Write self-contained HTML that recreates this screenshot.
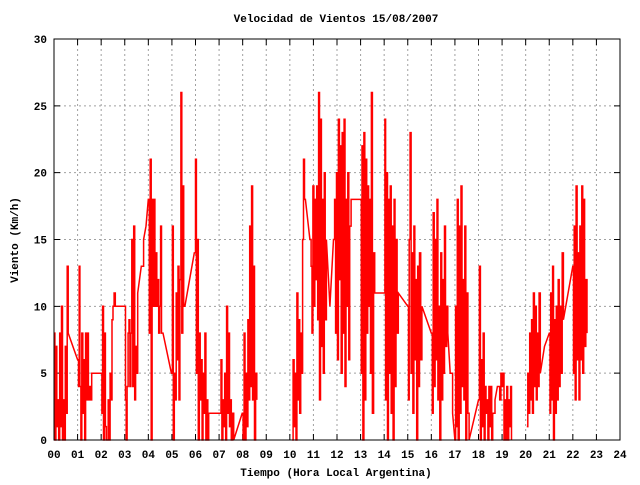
<!DOCTYPE html>
<html><head><meta charset="utf-8"><style>
body{margin:0;background:#fff}
svg text{font-family:"Liberation Mono",monospace;font-size:11px;font-weight:bold;fill:#000}
</style></head><body>
<svg id="chart" width="640" height="480" xmlns="http://www.w3.org/2000/svg">
<rect width="640" height="480" fill="#fff"/>
<text x="336" y="22" text-anchor="middle">Velocidad de Vientos 15/08/2007</text>
<text transform="translate(18,240) rotate(-90)" text-anchor="middle">Viento (Km/h)</text>
<text x="336" y="476" text-anchor="middle">Tiempo (Hora Local Argentina)</text>
<g id="grid"></g>
<g id="ticks"></g>
<path id="series" fill="none" stroke="#ff0000" stroke-width="1.5"/>
<rect x="54" y="39" width="566" height="401" fill="none" stroke="#000" stroke-width="1"/>
</svg>
<script>
const xTicks=["00","01","02","03","04","05","06","07","08","09","10","11","12","13","14","15","16","17","18","19","20","21","22","23","24"];
const yTicks=[0,5,10,15,20,25,30];
const times=[0,0.04,0.08,0.12,0.16,0.2,0.24,0.28,0.32,0.36,0.4,0.44,0.48,0.52,0.56,0.6,1.0,1.04,1.07,1.1,1.14,1.18,1.22,1.26,1.3,1.34,1.38,1.42,1.46,1.5,1.55,1.6,2.0,2.03,2.06,2.1,2.14,2.18,2.22,2.3,2.34,2.38,2.42,2.46,2.5,2.55,2.6,3.0,3.03,3.06,3.1,3.14,3.18,3.22,3.26,3.3,3.34,3.38,3.42,3.46,3.5,3.55,3.7,3.8,3.9,4.0,4.04,4.08,4.12,4.16,4.2,4.24,4.28,4.32,4.36,4.4,4.44,4.48,4.52,4.56,4.62,4.98,5.02,5.06,5.1,5.14,5.18,5.22,5.26,5.3,5.34,5.38,5.42,5.46,5.5,5.55,5.95,6.0,6.04,6.08,6.12,6.16,6.2,6.24,6.28,6.32,6.36,6.4,6.44,6.48,6.52,6.56,7.05,7.08,7.12,7.16,7.2,7.24,7.28,7.32,7.36,7.4,7.44,7.48,7.52,7.58,7.62,7.98,8.02,8.06,8.1,8.14,8.18,8.22,8.26,8.3,8.34,8.38,8.42,8.46,8.5,8.55,8.6,9.0,
10.1,10.14,10.18,10.22,10.26,10.3,10.34,10.38,10.42,10.46,10.5,10.54,10.58,10.62,10.66,10.85,10.9,10.94,10.98,11.02,11.06,11.1,11.14,11.18,11.22,11.26,11.3,11.34,11.38,11.42,11.46,11.5,11.55,11.7,11.85,11.9,11.94,11.98,12.02,12.06,12.1,12.14,12.18,12.22,12.26,12.3,12.34,12.38,12.42,12.46,12.5,12.54,12.6,13.0,13.03,13.06,13.1,13.14,13.18,13.22,13.26,13.3,13.34,13.38,13.42,13.46,13.5,13.55,13.6,14.0,14.03,14.06,14.1,14.14,14.18,14.22,14.26,14.3,14.34,14.38,14.42,14.46,14.5,14.55,14.6,15.0,15.03,15.06,15.1,15.14,15.18,15.22,15.26,15.3,15.34,15.38,15.42,15.46,15.5,15.55,15.6,16.0,16.04,16.08,16.12,16.16,16.2,16.24,16.28,16.32,16.36,16.4,16.44,16.48,16.52,16.56,16.6,16.65,16.7,16.8,16.9,17.0,17.03,17.06,17.1,17.14,17.18,17.22,17.26,17.3,17.34,17.38,17.42,17.46,17.5,17.55,17.6,18.0,18.04,18.08,18.12,18.16,18.2,18.24,18.28,18.32,18.36,18.4,18.44,18.48,18.52,18.56,18.6,18.7,18.8,18.9,18.95,19.0,19.04,19.08,19.12,19.16,19.2,19.24,19.28,19.32,19.36,19.4,19.7,
20.05,20.09,20.13,20.17,20.21,20.25,20.29,20.33,20.37,20.41,20.45,20.49,20.53,20.57,20.62,20.8,21.0,21.03,21.06,21.1,21.14,21.18,21.22,21.26,21.3,21.34,21.38,21.42,21.46,21.5,21.55,21.6,22.0,22.03,22.06,22.1,22.14,22.18,22.22,22.26,22.3,22.34,22.38,22.42,22.46,22.5,22.55,22.6];
const speeds=[8,0,7,1,3,0,8,1,10,0,3,0,7,2,13,8,6,4,13,4,0,8,2,6,0,8,3,8,3,4,3,5,5,2,10,0,8,1,0,3,0,5,3,9,10,11,10,10,3,0,4,8,9,4,8,15,4,16,3,7,5,11,13,15,16,18,8,21,0,18,10,18,10,14,10,12,8,10,16,8,8,5,16,0,5,3,11,6,13,3,12,26,8,19,10,10,14,21,5,15,0,8,3,6,0,5,2,8,0,3,0,2,2,6,0,3,1,5,0,10,2,8,1,3,0,2,0,2,0,8,0,5,1,9,3,16,4,19,3,13,0,5,3,null,
0,6,1,5,0,11,3,9,2,8,5,15,21,18,18,15,13,8,19,10,18,12,19,9,26,3,24,7,18,5,20,9,15,10,15,18,8,20,6,24,12,22,5,23,8,24,4,18,10,20,6,16,18,18,5,22,0,23,3,21,8,19,10,18,5,26,2,14,11,11,24,3,20,0,18,5,19,2,16,0,18,4,15,8,11,10,3,15,23,5,14,2,16,6,12,0,13,4,14,6,10,8,2,17,4,15,6,18,3,10,0,14,3,12,5,16,7,10,8,5,2,0,10,1,18,0,16,2,19,4,12,3,16,0,11,2,0,3,13,0,6,1,8,0,4,2,3,0,4,1,4,0,2,3,4,3,5,4,5,0,3,0,4,0,3,1,4,0,null,
1,5,2,8,3,9,2,11,4,10,3,8,4,11,5,7,8,2,11,3,13,0,9,2,10,3,12,4,10,5,14,9,13,5,16,3,19,6,14,3,16,6,19,5,18,7,12,8];
const X0=54,X1=620,Y0=440,Y1=39,XMAX=24,YMAX=30;
function xs(h){return X0+(X1-X0)*h/XMAX;}
function ys(v){return Y0-(Y0-Y1)*v/YMAX;}
const NS="http://www.w3.org/2000/svg";
const svg=document.getElementById('chart');
const grid=document.getElementById('grid'),ticks=document.getElementById('ticks');
function mk(tag,attrs,parent){const e=document.createElementNS(NS,tag);for(const k in attrs)e.setAttribute(k,attrs[k]);parent.appendChild(e);return e;}
xTicks.forEach((lab,i)=>{
  const x=xs(i);
  if(i>0&&i<xTicks.length-1){const g=mk('line',{x1:x,x2:x,y1:Y1,y2:Y0,stroke:'#a0a0a0','stroke-dasharray':'2,3'},grid);
  
  }
  const t=mk('path',{d:`M${x} ${Y0}v-6M${x} ${Y1}v6`,stroke:'#000'},ticks);
  
  
  const tx=mk('text',{x:x,y:458,'text-anchor':'middle'},svg);tx.textContent=lab;
  
  
});
yTicks.forEach(v=>{
  const y=ys(v);
  if(v>0&&v<YMAX){const g=mk('line',{x1:X0,x2:X1,y1:y,y2:y,stroke:'#a0a0a0','stroke-dasharray':'2,3'},grid);
  
  }
  const t=mk('path',{d:`M${X0} ${y}h6M${X1} ${y}h-6`,stroke:'#000'},ticks);
  
  
  const tx=mk('text',{x:47,y:y+4,'text-anchor':'end'},svg);tx.textContent=v;
  
  
});
let d='',pen=false,prevT=0;
for(let i=0;i<times.length;i++){
  if(speeds[i]===null||speeds[i]===undefined){pen=false;continue;}
  const x=xs(times[i]).toFixed(1),y=ys(speeds[i]).toFixed(1);
  if(!pen){d+='M'+x+' '+y;}
  else if(times[i]-prevT<0.1){d+='H'+x+'V'+y;}
  else{d+='L'+x+' '+y;}
  pen=true;prevT=times[i];
}
document.getElementById('series').setAttribute('d',d);
</script>
</body></html>
